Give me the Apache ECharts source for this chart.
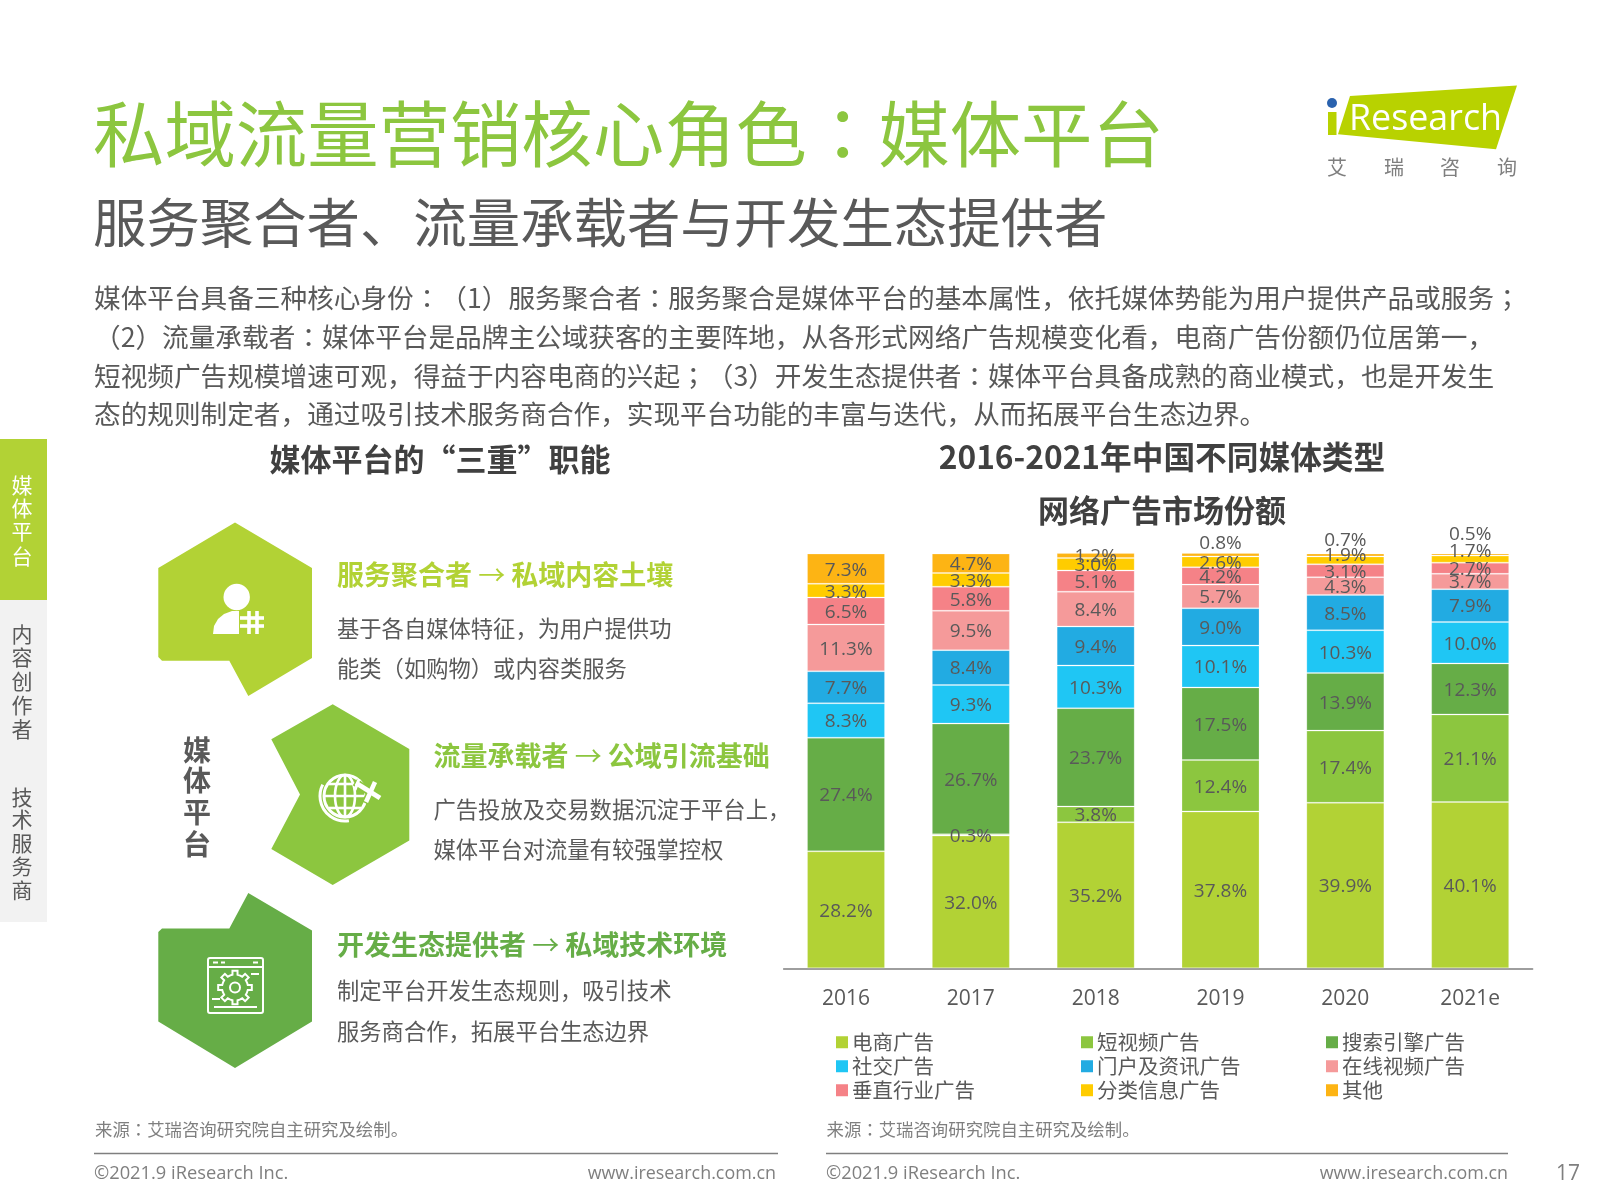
<!DOCTYPE html>
<html lang="zh-CN"><head><meta charset="utf-8"><title>私域流量营销核心角色</title>
<style>html,body{margin:0;padding:0;background:#fff}#c{width:1600px;height:1200px}</style>
<script src="https://cdn.jsdelivr.net/npm/echarts@6/dist/echarts.min.js"></script>
</head><body><div id="c"></div>
<script>
const categories = ['2016','2017','2018','2019','2020','2021e'];
const ecommerce = [28.2,32.0,35.2,37.8,39.9,40.1];
const shortVideo = [null,0.3,3.8,12.4,17.4,21.1];
const searchAds = [27.4,26.7,23.7,17.5,13.9,12.3];
const socialAds = [8.3,9.3,10.3,10.1,10.3,10.0];
const portalAds = [7.7,8.4,9.4,9.0,8.5,7.9];
const onlineVideo = [11.3,9.5,8.4,5.7,4.3,3.7];
const verticalAds = [6.5,5.8,5.1,4.2,3.1,2.7];
const classifiedAds = [3.3,3.3,3.0,2.6,1.9,1.7];
const otherAds = [7.3,4.7,1.2,0.8,0.7,0.5];
const seriesNames = ['电商广告','短视频广告','搜索引擎广告','社交广告','门户及资讯广告','在线视频广告','垂直行业广告','分类信息广告','其他'];
const seriesValues = [ecommerce,shortVideo,searchAds,socialAds,portalAds,onlineVideo,verticalAds,classifiedAds,otherAds];
const seriesColors = ['#B2D235','#8CC63F','#66AD47','#1FC6F4','#22ABE2','#F59A9A','#F58287','#FFCC00','#FDB414'];
// vertical label nudges (styling only) for the thin top segments
const labelNudges = {'分类信息广告':[0,0,0,0,-6,-9],'其他':[0,0,0,-13,-16,-21]};
const labelDrop = 1.5;

const CJK = '"Noto Sans CJK SC","Noto Sans",sans-serif';
const LATIN = '"Open Sans","Noto Sans CJK SC",sans-serif';
const GREY = '#595959';

// CJK strings are written with plain punctuation and widened here to full-width forms
const FW = {',':'\uFF0C',':':'\uFF1A',';':'\uFF1B','(':'\uFF08',')':'\uFF09'};
function wide(s){ return s.replace(/[,:;()]/g, m => FW[m]); }
function T(text,x,y,size,fill,o){
  o = o || {};
  const fam = o.family || CJK, w = o.weight || 'normal';
  const src = o.family ? text : wide(text);
  const out = src.replace(/[\uFF1A\uFF1B]/g, m => '{p|' + m + '}').replace(/\u2192/g, '{a|\u2192}');
  const st = {text: out, x:x, y:y, fill:fill, align:o.align||'left', verticalAlign:'middle',
    font: w+' '+size+'px '+fam};
  if(out !== src){ st.rich = {
    p:{font: w+' '+size+'px "Noto Sans CJK JP"', fill:fill},
    a:{font: 'normal '+size+'px "Noto Sans CJK SC"', fill:fill}
  }; }
  return {type:'text', z:o.z||5, style:st};
}
function V(chars,x,ys,size,fill,o){ return chars.split('').map((c,i)=>T(c,x,ys[i],size,fill,Object.assign({align:'center'},o||{}))); }
function P(points,fill,z){ return {type:'polygon', z:z||2, shape:{points:points}, style:{fill:fill}}; }
function L(x1,y1,x2,y2,c,w,z){ return {type:'line', z:z||6, shape:{x1,y1,x2,y2}, style:{stroke:c,lineWidth:w}}; }

function gearPoints(cx,cy,rOut,rIn,teeth){
  const out=[];
  for(let i=0;i<teeth;i++){
    const a=i/teeth*Math.PI*2, s=Math.PI/teeth;
    [[rIn,a-s*0.95],[rIn,a-s*0.5],[rOut,a-s*0.38],[rOut,a+s*0.38],[rIn,a+s*0.5]].forEach(p=>{
      out.push([cx+p[0]*Math.cos(p[1]),cy+p[0]*Math.sin(p[1])]);
    });
  }
  return out;
}

const H1='#B2D235', H2='#8CC63F', H3='#66AD47';
const graphics = [
  // side tabs
  {type:'rect',z:1,shape:{x:0,y:439,width:47,height:161},style:{fill:H1}},
  {type:'rect',z:1,shape:{x:0,y:600,width:47,height:322},style:{fill:'#F2F2F2'}},
  ...V('媒体平台',22,[485,508,531,556],21,'#fff'),
  ...V('内容创作者',22,[634,657,681,705,729],21,GREY),
  ...V('技术服务商',22,[797,819,843,866,890],21,GREY),
  // headline
  T('私域流量营销核心角色:媒体平台',93,134,71.4,H2),
  T('服务聚合者、流量承载者与开发生态提供者',93,223,53.4,GREY),
  T('媒体平台具备三种核心身份:(1)服务聚合者:服务聚合是媒体平台的基本属性,依托媒体势能为用户提供产品或服务;',94,297.5,26.65,GREY),
  T('(2)流量承载者:媒体平台是品牌主公域获客的主要阵地,从各形式网络广告规模变化看,电商广告份额仍位居第一,',94,336.5,26.65,GREY),
  T('短视频广告规模增速可观,得益于内容电商的兴起;(3)开发生态提供者:媒体平台具备成熟的商业模式,也是开发生',94,375.5,26.65,GREY),
  T('态的规则制定者,通过吸引技术服务商合作,实现平台功能的丰富与迭代,从而拓展平台生态边界。',94,414,26.65,GREY),
  T('媒体平台的“三重”职能',440,459,31,'#404040',{weight:'bold',align:'center'}),
  T('2016-2021年中国不同媒体类型',1162,457,31.7,'#404040',{weight:'bold',align:'center'}),
  T('网络广告市场份额',1162,510,31,'#404040',{weight:'bold',align:'center'}),
  // logo
  P([[1350,96],[1517,85.5],[1496,149.3],[1338,134.3]],'#B8D200'),
  {type:'rect',z:3,shape:{x:1328,y:112,width:8.5,height:23},style:{fill:'#B8D200'}},
  {type:'circle',z:3,shape:{cx:1332,cy:103,r:5},style:{fill:'#2A62AE'}},
  T('Research',1349,120,35.8,'#fff',{family:LATIN}),
  T('艾',1337,167,20,'#7f7f7f',{align:'center'}),
  T('瑞',1394,167,20,'#7f7f7f',{align:'center'}),
  T('咨',1450,167,20,'#7f7f7f',{align:'center'}),
  T('询',1507,167,20,'#7f7f7f',{align:'center'}),
  // hexagons
  P([[235,522.5],[312,568],[312,658],[248.3,696],[229.3,660.7],[162,660.7],[158.3,657],[158.3,568]],H1),
  P([[332.7,704.3],[409.3,749],[409.3,840.4],[332.7,885],[271.3,849],[300,794.6],[271.3,739.3]],H2),
  P([[248.3,893],[312,930.4],[312,1021.4],[235,1068],[158.3,1021.4],[158.3,932],[162,928.6],[229.3,928.6]],H3),
  // icon 1: person with hash
  {type:'circle',z:4,shape:{cx:236.7,cy:597,r:13.2},style:{fill:'#fff'}},
  {type:'polygon',z:4,shape:{points:[[213,634],[214,626],[218,619],[224,614],[232,611],[250,611],[250,634]]},style:{fill:'#fff'}},
  {type:'rect',z:5,shape:{x:239,y:610,width:26,height:25},style:{fill:H1}},
  L(249,611,249,634,'#fff',3.6),L(257,611,257,634,'#fff',3.6),
  L(240,618,264,618,'#fff',3.6),L(240,626,264,626,'#fff',3.6),
  // icon 2: globe and plane
  {type:'circle',z:4,shape:{cx:345,cy:796,r:21},style:{fill:'none',stroke:'#fff',lineWidth:3}},
  {type:'ellipse',z:4,shape:{cx:345,cy:796,rx:10,ry:21},style:{fill:'none',stroke:'#fff',lineWidth:2.6}},
  L(345,775,345,817,'#fff',2.6,4),L(324,796,366,796,'#fff',2.6,4),
  L(329,784,361,784,'#fff',2.6,4),L(329,808,361,808,'#fff',2.6,4),
  {type:'arc',z:4,shape:{cx:345,cy:796,r:25,startAngle:Math.PI*0.45,endAngle:Math.PI*1.15,clockwise:true},style:{fill:'none',stroke:'#fff',lineWidth:3}},
  L(355,782,380,799,H2,8,6),L(376,780,365,803,H2,7,6),
  L(356,783,380,798,'#fff',5,7),L(375,782,366,802,'#fff',4.5,7),L(359,779,355,790,'#fff',3,7),
  // icon 3: window and gear
  {type:'rect',z:4,shape:{x:208,y:958,width:55,height:55,r:2},style:{fill:'none',stroke:'#fff',lineWidth:2}},
  L(208,967,263,967,'#fff',2,4),L(213,962.5,218,962.5,'#fff',2,4),L(221,962.5,225,962.5,'#fff',2,4),L(253,962.5,258,962.5,'#fff',2,4),
  L(214,1007,257,1007,'#fff',2,4),L(251,974,259,974,'#fff',2,4),L(212,999,220,999,'#fff',2,4),
  {type:'polygon',z:4,shape:{points:gearPoints(235,987.5,17,13,8)},style:{fill:H3,stroke:'#fff',lineWidth:2}},
  {type:'circle',z:5,shape:{cx:235,cy:987.5,r:5},style:{fill:'none',stroke:'#fff',lineWidth:2}},
  // role text
  ...V('媒体平台',197,[750,780,812,844],28,GREY,{weight:'bold'}),
  T('服务聚合者 → 私域内容土壤',337,574.5,27,H1,{weight:'bold'}),
  T('基于各自媒体特征,为用户提供功',337,629,22.3,GREY),
  T('能类(如购物)或内容类服务',337,669,22.3,GREY),
  T('流量承载者 → 公域引流基础',433.5,756,27,H2,{weight:'bold'}),
  T('广告投放及交易数据沉淀于平台上,',433.5,810,22.3,GREY),
  T('媒体平台对流量有较强掌控权',433.5,850,22.3,GREY),
  T('开发生态提供者 → 私域技术环境',337,945,27,H3,{weight:'bold'}),
  T('制定平台开发生态规则,吸引技术',337,991,22.3,GREY),
  T('服务商合作,拓展平台生态边界',337,1032,22.3,GREY),
  // footers
  T('来源:艾瑞咨询研究院自主研究及绘制。',95,1129,17.4,'#7f7f7f'),
  T('来源:艾瑞咨询研究院自主研究及绘制。',826.5,1129,17.4,'#7f7f7f'),
  L(94,1153.5,778,1153.5,'#7f7f7f',1.5),
  L(826,1153.5,1508,1153.5,'#7f7f7f',1.5),
  T('©2021.9 iResearch Inc.',94,1174,18.3,'#7f7f7f',{family:LATIN}),
  T('www.iresearch.com.cn',776,1174,17.9,'#7f7f7f',{family:LATIN,align:'right'}),
  T('©2021.9 iResearch Inc.',826,1174,18.3,'#7f7f7f',{family:LATIN}),
  T('www.iresearch.com.cn',1508,1174,17.9,'#7f7f7f',{family:LATIN,align:'right'}),
  T('17',1556,1174,21,'#7f7f7f',{family:LATIN})
];

const series = seriesNames.map((name,i)=>({
  name:name, type:'bar', stack:'share', barWidth:78, clip:false,
  itemStyle:{color:seriesColors[i],borderColor:'rgba(255,255,255,0.22)',borderWidth:1},
  label:{show:true,position:'inside',color:GREY,fontSize:19,fontFamily:'"Open Sans"',offset:[0,labelDrop],
    formatter:p=>p.value==null?'':Number(p.value).toFixed(1)+'%'},
  data:seriesValues[i].map((v,j)=>{
    const n=labelNudges[name];
    return n&&n[j]?{value:v,label:{offset:[0,n[j]+labelDrop]}}:v;
  })
}));
const legendBase={orient:'vertical',top:1032,padding:0,itemWidth:12,itemHeight:12,itemGap:3.5,icon:'rect',itemStyle:{borderWidth:0},
  textStyle:{color:GREY,fontSize:20.5,fontFamily:CJK,padding:[0,0,0,-1]},selectedMode:false};
const legendColumns=[[0,3,6],[1,4,7],[2,5,8]];
const legendLefts=[836,1081,1326];

const chart=echarts.init(document.getElementById('c'),null,{renderer:'canvas',width:1600,height:1200});
chart.setOption({
  animation:false,
  backgroundColor:'#fff',
  grid:{left:783.6,top:553.5,width:749,height:414.8,containLabel:false},
  xAxis:{type:'category',data:categories,axisTick:{show:false},
    axisLine:{lineStyle:{color:'#7f7f7f',width:1.5}},
    axisLabel:{color:GREY,fontSize:21,fontFamily:'"Open Sans"',margin:20}},
  yAxis:{type:'value',min:0,max:100,show:false},
  legend:legendColumns.map((c,k)=>Object.assign({},legendBase,{left:legendLefts[k],data:c.map(i=>seriesNames[i])})),
  series:series,
  graphic:{elements:graphics}
});
</script></body></html>
